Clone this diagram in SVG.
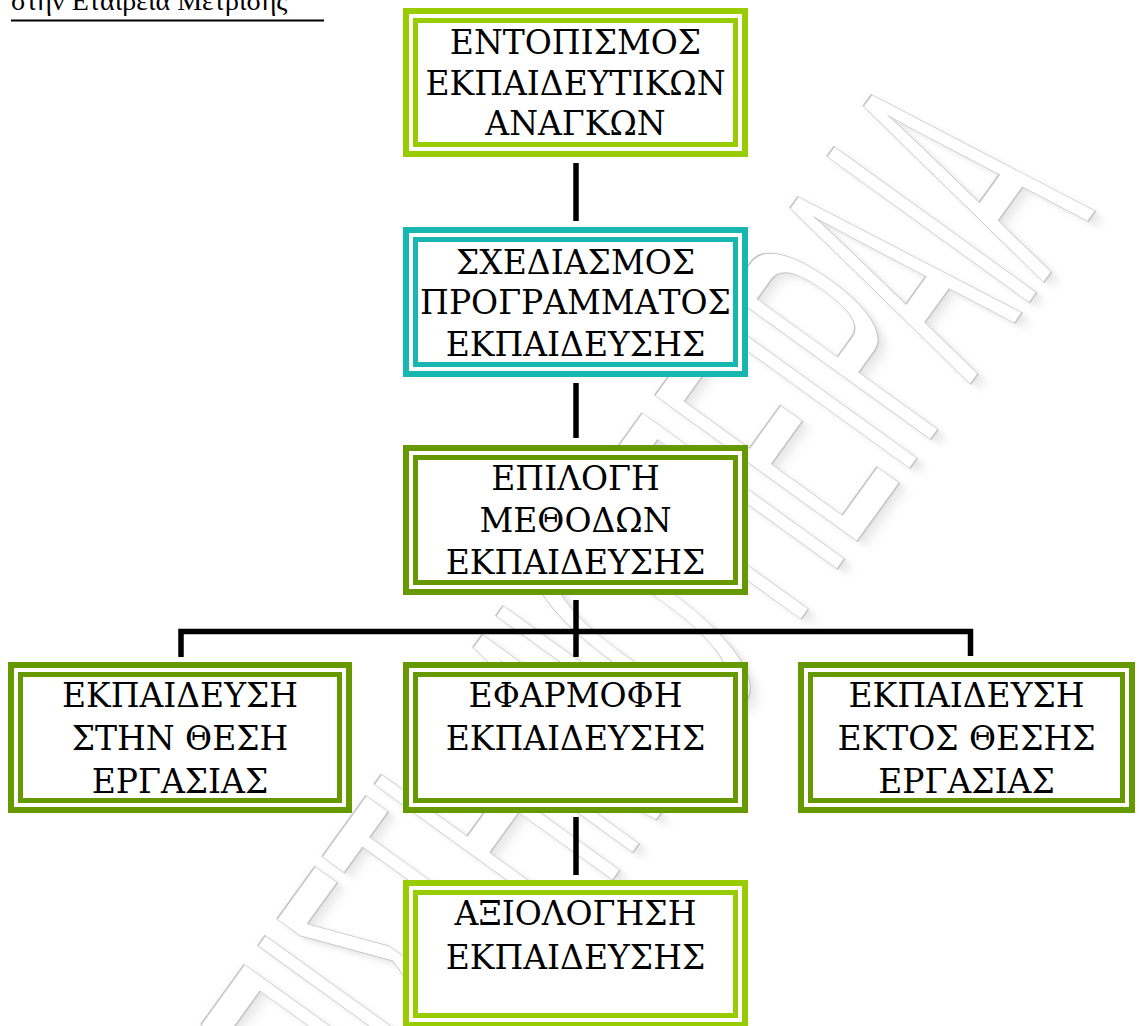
<svg xmlns="http://www.w3.org/2000/svg" width="1139" height="1026" viewBox="0 0 1139 1026">
  <defs>
    <style>
      .outer { fill: #ffffff; stroke-width: 6; }
      .inner { fill: none; stroke-width: 5; }
      .lime { stroke: #99cc00; }
      .teal { stroke: #17b6b1; }
      .olive { stroke: #669900; }
      .label { font-family: "DejaVu Serif", serif; font-size: 33px; fill: #000; text-anchor: middle; }
      .link { fill: none; stroke: #000; stroke-width: 5.5; stroke-linejoin: miter; stroke-linecap: butt; }
      .mark { font-family: "Liberation Sans", Arial, sans-serif; font-size: 363px; text-anchor: end; }
    </style>
    <filter id="soft" x="-20%" y="-20%" width="140%" height="140%">
      <feGaussianBlur stdDeviation="7"/>
    </filter>
  </defs>

  <rect width="1139" height="1026" fill="#ffffff"/>

  <!-- background watermark -->
  <g id="watermark" transform="rotate(-54.2)">
    <g transform="scale(0.366,1)">
      <text class="mark" x="1284" y="1018" fill="#000" fill-opacity="0.12" filter="url(#soft)">ΠΑΝΕΠΙΣΤΗΜΙΟ ΠΕΙΡΑΙΑ</text>
      <text class="mark" x="1284" y="1012" fill="#ffffff" stroke="#c4c4c4" stroke-width="1.2" vector-effect="non-scaling-stroke">ΠΑΝΕΠΙΣΤΗΜΙΟ ΠΕΙΡΑΙΑ</text>
    </g>
  </g>

  <!-- header line -->
  <g id="header">
    <text x="11" y="10" font-family="Liberation Serif, DejaVu Serif, serif" font-size="28">στην Εταιρεία Μετρίσης</text>
    <rect x="11" y="19.5" width="313" height="2" fill="#000"/>
  </g>

  <!-- connectors -->
  <g id="connectors">
    <path class="link" d="M576,163 V221"/>
    <path class="link" d="M576,383 V438"/>
    <path class="link" d="M576,600 V657"/>
    <path class="link" d="M181,657 V631.5 H970.5 V656"/>
    <path class="link" d="M576,817 V875"/>
  </g>

  <g id="needs">
    <rect class="outer lime" x="406" y="11" width="339" height="143"/>
    <rect class="inner lime" x="415.5" y="20.5" width="320" height="124"/>
    <text class="label" x="575.5" y="53.5">ΕΝΤΟΠΙΣΜΟΣ</text>
    <text class="label" x="575.5" y="94.5">ΕΚΠΑΙΔΕΥΤΙΚΩΝ</text>
    <text class="label" x="575.5" y="135">ΑΝΑΓΚΩΝ</text>
  </g>

  <g id="design">
    <rect class="outer teal" x="406" y="230" width="339" height="144"/>
    <rect class="inner teal" x="415.5" y="239.5" width="320" height="125"/>
    <text class="label" x="575.5" y="273.5">ΣΧΕΔΙΑΣΜΟΣ</text>
    <text class="label" x="575.5" y="314">ΠΡΟΓΡΑΜΜΑΤΟΣ</text>
    <text class="label" x="575.5" y="356">ΕΚΠΑΙΔΕΥΣΗΣ</text>
  </g>

  <g id="methods">
    <rect class="outer olive" x="406" y="448" width="339" height="144"/>
    <rect class="inner olive" x="415.5" y="457.5" width="320" height="125"/>
    <text class="label" x="575.5" y="490">ΕΠΙΛΟΓΗ</text>
    <text class="label" x="575.5" y="532">ΜΕΘΟΔΩΝ</text>
    <text class="label" x="575.5" y="574">ΕΚΠΑΙΔΕΥΣΗΣ</text>
  </g>

  <g id="on-the-job">
    <rect class="outer olive" x="11" y="665" width="338" height="145"/>
    <rect class="inner olive" x="20.5" y="674.5" width="319" height="126"/>
    <text class="label" x="180" y="706.5">ΕΚΠΑΙΔΕΥΣΗ</text>
    <text class="label" x="180" y="750">ΣΤΗΝ ΘΕΣΗ</text>
    <text class="label" x="180" y="793">ΕΡΓΑΣΙΑΣ</text>
  </g>

  <g id="delivery">
    <rect class="outer olive" x="406" y="665" width="339" height="145"/>
    <rect class="inner olive" x="415.5" y="674.5" width="320" height="126"/>
    <text class="label" x="575.5" y="706.5">ΕΦΑΡΜΟΦΗ</text>
    <text class="label" x="575.5" y="750">ΕΚΠΑΙΔΕΥΣΗΣ</text>
  </g>

  <g id="off-the-job">
    <rect class="outer olive" x="801" y="665" width="331" height="145"/>
    <rect class="inner olive" x="810.5" y="674.5" width="312" height="126"/>
    <text class="label" x="966.5" y="706.5">ΕΚΠΑΙΔΕΥΣΗ</text>
    <text class="label" x="966.5" y="750">ΕΚΤΟΣ ΘΕΣΗΣ</text>
    <text class="label" x="966.5" y="793">ΕΡΓΑΣΙΑΣ</text>
  </g>

  <g id="evaluation">
    <rect class="outer lime" x="406" y="883" width="339" height="142"/>
    <rect class="inner lime" x="415.5" y="892.5" width="320" height="123"/>
    <text class="label" x="575.5" y="925">ΑΞΙΟΛΟΓΗΣΗ</text>
    <text class="label" x="575.5" y="968.5">ΕΚΠΑΙΔΕΥΣΗΣ</text>
  </g>
</svg>
